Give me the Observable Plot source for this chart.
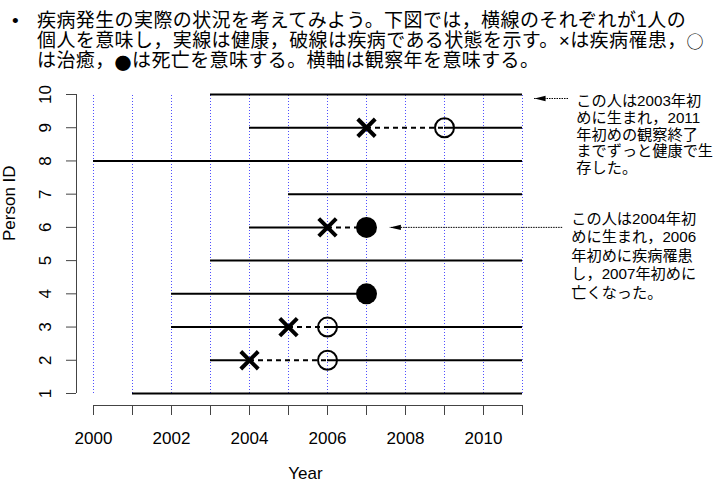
<!DOCTYPE html>
<html><head><meta charset="utf-8">
<script src="https://cdn.jsdelivr.net/npm/d3@7"></script>
<script src="https://cdn.jsdelivr.net/npm/@observablehq/plot@0.6"></script>
<style>
body{margin:0;background:#fff;width:716px;height:485px;overflow:hidden;font-family:"Liberation Sans","Noto Sans CJK JP",sans-serif}
#title{position:relative;height:75px;box-sizing:border-box;padding:11px 0 0 37px;font-size:19px;line-height:20px;letter-spacing:0.4px;white-space:nowrap;color:#000}
#bullet{position:absolute;left:12px;top:11px}
.cjk{font-family:"Noto Sans CJK JP",sans-serif;display:inline-block;height:20px;line-height:20px;vertical-align:top;font-size:17px}
.dot{font-family:"Noto Sans CJK JP",sans-serif;display:inline-block;height:20px;line-height:20px;vertical-align:top;font-size:17px;position:relative;top:2px}
#chart svg{display:block}
</style></head><body>
<div id="title"><span id="bullet">•</span>疾病発生の実際の状況を考えてみよう。下図では，横線のそれぞれが1人の<br>個人を意味し，実線は健康，破線は疾病である状態を示す。×は疾病罹患，<span class="cjk">○</span><br>は治癒，<span class="dot">●</span>は死亡を意味する。横軸は観察年を意味する。</div>
<div id="chart"></div>
<script>
// ---- data ----
const personIds  = [1, 2, 3, 4, 5, 6, 7, 8, 9, 10];
const birthYears = [2001, 2003, 2002, 2002, 2003, 2004, 2005, 2000, 2004, 2003];
const onsetYears = [null, 2004, 2005, null, null, 2006, null, null, 2007, null];
const cureYears  = [null, 2006, 2006, null, null, null, null, null, 2009, null];
const deathYears = [null, null, null, 2007, null, 2007, null, null, null, null];
const studyEnd = 2011;
const yearTicks = [2000, 2001, 2002, 2003, 2004, 2005, 2006, 2007, 2008, 2009, 2010, 2011];
const yearLabels = [2000, 2002, 2004, 2006, 2008, 2010];
const note1Lines = ["この人は2003年初", "めに生まれ，2011", "年初めの観察終了", "までずっと健康で生", "存した。"];
const note2Lines = ["この人は2004年初", "めに生まれ，2006", "年初めに疾病罹患", "し，2007年初めに", "亡くなった。"];
// annotation anchors in data space (year, person id)
const note1 = {x: 2012.38, y: 8.80, ax1: 2012.18, ax2: 2011.31, ay: 9.88};
const note2 = {x: 2012.25, y: 5.17, ax1: 2012.03, ax2: 2007.6, ay: 6.0};

// ---- derived tables ----
const healthy = [], ill = [], onsets = [], cures = [], deaths = [];
personIds.forEach((id, i) => {
  const b = birthYears[i], o = onsetYears[i], c = cureYears[i], d = deathYears[i];
  const firstEnd = o ?? d ?? studyEnd;
  healthy.push({id, from: b, to: firstEnd});
  if (o != null) {
    onsets.push({id, year: o});
    ill.push({id, from: o, to: c ?? d});
  }
  if (c != null) { cures.push({id, year: c}); healthy.push({id, from: c, to: studyEnd}); }
  if (d != null) deaths.push({id, year: d});
});
const arrows = [
  {x1: note1.ax1, x2: note1.ax2, y: note1.ay},
  {x1: note2.ax1, x2: note2.ax2, y: note2.ay}
];
const headSymbol = {draw(ctx) { ctx.moveTo(0, 0); ctx.lineTo(11, -2.7); ctx.lineTo(11, 2.7); ctx.closePath(); }};

const xMin = yearTicks[0] - 17 / 39;
const yMin = personIds[0] - 12 / 33.22;

const chart = Plot.plot({
  width: 716, height: 410,
  marginLeft: 76, marginRight: 194, marginTop: 19, marginBottom: 80,
  style: {fontFamily: "'Liberation Sans','Noto Sans CJK JP',sans-serif", fontSize: "17px", color: "#000", background: "#fff"},
  x: {domain: [xMin, studyEnd]},
  y: {domain: [yMin, personIds[personIds.length - 1]]},
  marks: [
    Plot.ruleX(yearTicks, {y1: personIds[0], y2: personIds[personIds.length - 1], stroke: "blue", strokeWidth: 1, strokeDasharray: "1,2", strokeOpacity: 0.7}),
    // axis lines
    Plot.ruleY([yMin], {x1: yearTicks[0], x2: yearTicks[yearTicks.length - 1], stroke: "#444", strokeWidth: 1}),
    Plot.ruleX([xMin], {y1: personIds[0], y2: personIds[personIds.length - 1], stroke: "#444", strokeWidth: 1}),
    Plot.axisX(yearTicks, {tickSize: 10, tickPadding: 16, stroke: "#444", fontSize: 17, tickFormat: d => yearLabels.includes(d) ? String(d) : "", label: null}),
    Plot.axisY(personIds, {tickSize: 10, tickPadding: 16, tickRotate: -90, stroke: "#444", fontSize: 17, tickFormat: d => String(d), label: null}),
    Plot.text(["Year"], {frameAnchor: "bottom", dx: 6, dy: 73, fontSize: 17}),
    Plot.text(["Person ID"], {frameAnchor: "left", rotate: -90, dx: -67, dy: -9, fontSize: 17}),
    // life lines
    Plot.ruleY(healthy, {y: "id", x1: "from", x2: "to", stroke: "black", strokeWidth: 2}),
    Plot.ruleY(ill, {y: "id", x1: "from", x2: "to", stroke: "black", strokeWidth: 2, strokeDasharray: "5,4"}),
    Plot.dot(onsets, {x: "year", y: "id", symbol: "times", r: 8, stroke: "black", strokeWidth: 4}),
    Plot.dot(cures, {x: "year", y: "id", r: 9.5, stroke: "black", strokeWidth: 2, fill: "none"}),
    Plot.dot(deaths, {x: "year", y: "id", r: 10.5, fill: "black", stroke: "none"}),
    // annotations
    Plot.ruleY(arrows, {y: "y", x1: "x1", x2: "x2", stroke: "black", strokeWidth: 1, strokeDasharray: "1.5,1"}),
    Plot.dot(arrows, {x: "x2", y: "y", symbol: headSymbol, fill: "black", stroke: "none", clip: false}),
    Plot.text([note1Lines.join("\n")], {x: note1.x, y: note1.y, textAnchor: "start", lineAnchor: "middle", lineHeight: 1.1, fontSize: 15.2}),
    Plot.text([note2Lines.join("\n")], {x: note2.x, y: note2.y, textAnchor: "start", lineAnchor: "middle", lineHeight: 1.22, fontSize: 15.2})
  ]
});
document.getElementById("chart").appendChild(chart);
</script>
</body></html>
